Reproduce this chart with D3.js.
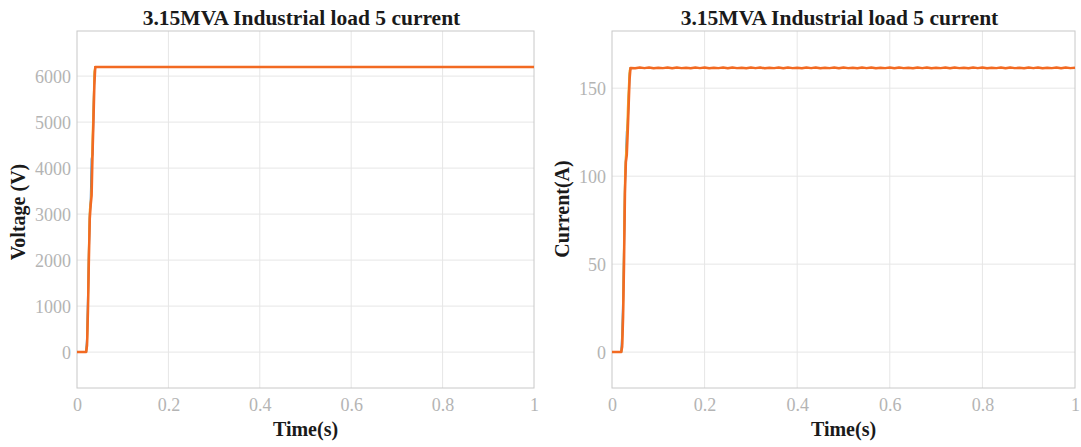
<!DOCTYPE html>
<html>
<head>
<meta charset="utf-8">
<script src="https://cdn.jsdelivr.net/npm/d3@7"></script>
<style>
  body { margin: 0; background: #fff; }
  svg text { font-family: "Liberation Serif", "DejaVu Serif", serif; }
  .grid line { stroke: #e6e6e6; stroke-width: 1; }
</style>
</head>
<body>
<div id="chart"></div>
<script>
// ---------------- data ----------------
const chartTitle = "3.15MVA Industrial load 5 current";

// rise of the three phases (time in s)
const riseTime = [0, 0.018, 0.020, 0.022, 0.024, 0.026, 0.028, 0.030, 0.032, 0.034, 0.036, 0.038, 0.040, 0.041];

// voltage (V)
const voltBlue   = [0, 0, 0, 300, 1200, 2200, 3000, 3300, 4200, 4300, 5200, 6000, 6200, 6200];
const voltYellow = [0, 0, 0, 200, 1000, 2300, 3100, 3250, 3600, 4700, 5300, 6100, 6200, 6200];
const voltOrange = [0, 0, 0, 150,  900, 2000, 2900, 3200, 3400, 4300, 5000, 5800, 6200, 6200];
const voltTailTime = [0.041, 1];
const voltTail = [6200, 6200];

// current (A)
const curBlue   = [0, 0, 0, 10, 30, 60, 95, 110, 125, 130, 145, 158, 161.5, 161.5];
const curYellow = [0, 0, 0,  5, 25, 65, 100, 112, 120, 138, 150, 160, 161.5, 161.5];
const curOrange = [0, 0, 0,  3, 20, 50,  90, 108, 112, 125, 140, 155, 161.5, 161.5];
const curTailTime = [0.041, 0.05, 0.06, 0.07, 0.08, 0.09, 0.10, 0.11, 0.12, 0.13, 0.14, 0.15, 0.16, 0.17, 0.18, 0.19,
  0.20, 0.21, 0.22, 0.23, 0.24, 0.25, 0.26, 0.27, 0.28, 0.29, 0.30, 0.31, 0.32, 0.33, 0.34, 0.35, 0.36, 0.37, 0.38, 0.39,
  0.40, 0.41, 0.42, 0.43, 0.44, 0.45, 0.46, 0.47, 0.48, 0.49, 0.50, 0.51, 0.52, 0.53, 0.54, 0.55, 0.56, 0.57, 0.58, 0.59,
  0.60, 0.61, 0.62, 0.63, 0.64, 0.65, 0.66, 0.67, 0.68, 0.69, 0.70, 0.71, 0.72, 0.73, 0.74, 0.75, 0.76, 0.77, 0.78, 0.79,
  0.80, 0.81, 0.82, 0.83, 0.84, 0.85, 0.86, 0.87, 0.88, 0.89, 0.90, 0.91, 0.92, 0.93, 0.94, 0.95, 0.96, 0.97, 0.98, 0.99, 1.00];
const curTail = [161.5, 161.3, 161.7, 161.4, 161.8, 161.3, 161.6, 161.4, 161.7, 161.3, 161.8, 161.4, 161.6, 161.3, 161.7, 161.4,
  161.8, 161.3, 161.6, 161.4, 161.7, 161.3, 161.8, 161.4, 161.6, 161.3, 161.7, 161.4, 161.8, 161.3, 161.6, 161.4,
  161.7, 161.3, 161.8, 161.4, 161.6, 161.3, 161.7, 161.4, 161.8, 161.3, 161.6, 161.4, 161.7, 161.3, 161.8, 161.4,
  161.6, 161.3, 161.7, 161.4, 161.8, 161.3, 161.6, 161.4, 161.7, 161.3, 161.8, 161.4, 161.6, 161.3, 161.7, 161.4,
  161.8, 161.3, 161.6, 161.4, 161.7, 161.3, 161.8, 161.4, 161.6, 161.3, 161.7, 161.4, 161.8, 161.3, 161.6, 161.4,
  161.7, 161.3, 161.8, 161.4, 161.6, 161.3, 161.7, 161.4, 161.8, 161.3, 161.6, 161.4, 161.7, 161.3, 161.8, 161.4, 161.6];

const xTicks = [0, 0.2, 0.4, 0.6, 0.8, 1];
const voltTicks = [0, 1000, 2000, 3000, 4000, 5000, 6000];
const curTicks = [0, 50, 100, 150];

const colors = { blue: "#3d7fc0", yellow: "#f0b62a", orange: "#f26a22" };

// ---------------- drawing ----------------
const serif = "'Liberation Serif', 'DejaVu Serif', serif";

const svg = d3.select("#chart").append("svg")
    .attr("width", 1081)
    .attr("height", 447);

function zipPts(t, v) { return t.map((d, i) => [d, v[i]]); }

function drawPanel(opt) {
  const w = opt.x1 - opt.x0, h = opt.y1 - opt.y0;
  const g = svg.append("g").attr("transform", "translate(" + opt.x0 + "," + opt.y0 + ")");

  const x = d3.scaleLinear().domain([0, 1]).range([0, w]);
  const y = d3.scaleLinear().domain(opt.yDomain).range([h, 0]);

  // grid
  g.append("g").attr("class", "grid")
    .selectAll("line").data(xTicks.slice(1, -1)).enter().append("line")
    .attr("x1", d => x(d)).attr("x2", d => x(d)).attr("y1", 0).attr("y2", h);
  g.append("g").attr("class", "grid")
    .selectAll("line").data(opt.yTicks).enter().append("line")
    .attr("x1", 0).attr("x2", w).attr("y1", d => y(d)).attr("y2", d => y(d));

  // axes
  const xa = g.append("g").attr("transform", "translate(0," + h + ")")
    .call(d3.axisBottom(x).tickValues(xTicks).tickSize(0).tickPadding(12).tickFormat(d3.format("")));
  const ya = g.append("g")
    .call(d3.axisLeft(y).tickValues(opt.yTicks).tickSize(0).tickPadding(6).tickFormat(d3.format("")));
  [xa, ya].forEach(a => {
    a.select(".domain").remove();
    a.selectAll("text")
      .style("font-family", serif).style("font-size", "18px")
      .attr("fill", "#b4b4b4");
  });
  xa.selectAll("text").attr("dy", "0.62em");
  ya.selectAll("text").attr("dy", "0.34em");

  // box
  g.append("rect").attr("width", w).attr("height", h)
    .attr("fill", "none").attr("stroke", "#c8c8c8").attr("stroke-width", 1);

  // traces
  const line = d3.line().x(d => x(d[0])).y(d => y(d[1]));
  opt.series.forEach(s => {
    g.append("path").datum(s.pts)
      .attr("fill", "none").attr("stroke", s.color)
      .attr("stroke-width", s.width).attr("stroke-linejoin", "round")
      .attr("d", line);
  });

  // title and labels
  g.append("text").attr("x", w / 2 - 4).attr("y", -6)
    .attr("text-anchor", "middle").style("font-size", "21.5px").style("font-weight", "bold")
    .attr("fill", "#1a1a1a").text(chartTitle);
  g.append("text").attr("x", w / 2).attr("y", h + 48)
    .attr("text-anchor", "middle").style("font-size", "20px").style("font-weight", "bold")
    .attr("fill", "#1a1a1a").text("Time(s)");
  g.append("text").attr("transform", "rotate(-90)")
    .attr("x", -opt.labelY).attr("y", opt.labelX)
    .attr("text-anchor", "middle").style("font-size", "20px").style("font-weight", "bold")
    .attr("fill", "#1a1a1a").text(opt.yLabel);
}

drawPanel({
  x0: 77, x1: 534, y0: 31, y1: 388,
  yDomain: [-780, 6980], yTicks: voltTicks,
  yLabel: "Voltage (V)", labelX: -52, labelY: 181,
  series: [
    { color: colors.blue, width: 2, pts: zipPts(riseTime, voltBlue) },
    { color: colors.yellow, width: 2, pts: zipPts(riseTime, voltYellow) },
    { color: colors.orange, width: 2.5, pts: zipPts(riseTime, voltOrange).concat(zipPts(voltTailTime, voltTail)) }
  ]
});

drawPanel({
  x0: 612, x1: 1075, y0: 31, y1: 388,
  yDomain: [-20.4, 182.5], yTicks: curTicks,
  yLabel: "Current(A)", labelX: -43, labelY: 178,
  series: [
    { color: colors.blue, width: 2, pts: zipPts(riseTime, curBlue) },
    { color: colors.yellow, width: 2, pts: zipPts(riseTime, curYellow) },
    { color: colors.orange, width: 2.5, pts: zipPts(riseTime, curOrange).concat(zipPts(curTailTime, curTail)) }
  ]
});
</script>
</body>
</html>
